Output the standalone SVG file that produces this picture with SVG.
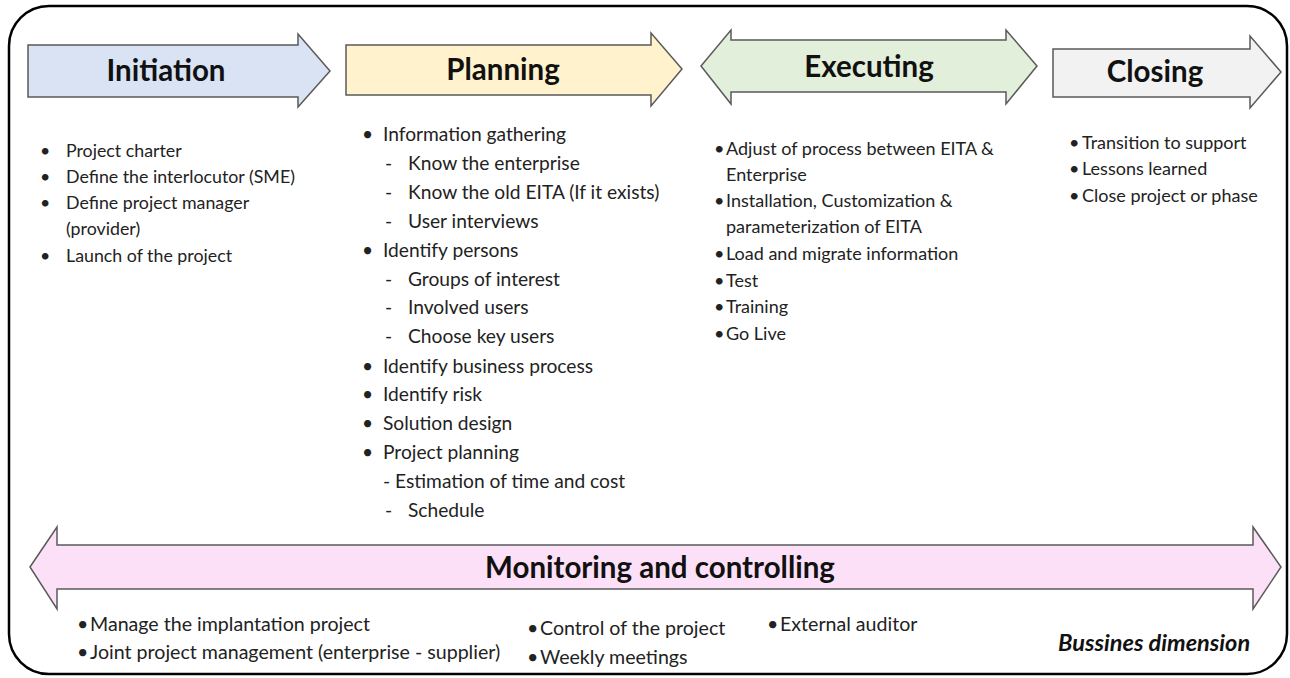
<svg xmlns="http://www.w3.org/2000/svg" width="1290" height="678" viewBox="0 0 1290 678">
<style>
.arr{stroke:#5a5a5a;stroke-width:1.5}
.h{font-family:Lato,"Liberation Sans",sans-serif;font-weight:bold;font-size:29.5px;fill:#111;text-anchor:middle}
.t{font-family:Lato,"Liberation Sans",sans-serif;font-size:17.8px;fill:#222}
.e{font-family:Lato,"Liberation Sans",sans-serif;font-size:18px;fill:#222}
.p{font-family:Lato,"Liberation Sans",sans-serif;font-size:19.2px;fill:#222}
.m{font-family:Lato,"Liberation Sans",sans-serif;font-size:19.6px;fill:#222}
.bi{font-family:Lato,"Liberation Sans",sans-serif;font-size:23.5px;font-weight:bold;font-style:italic;fill:#111}
</style>
<rect x="9" y="6" width="1278" height="668" rx="40" ry="40" fill="#fff" stroke="#000" stroke-width="2.5"/>
<g id="initiation">
<path class="arr" fill="#dae3f3" d="M28,45 H298 V34 L330,71 L298,107 V97 H28 Z"/>
<text class="h" x="166" y="81">Initiation</text>
</g>
<g id="planning">
<path class="arr" fill="#fff2cc" d="M346,45 H651 V33 L682,69 L651,106 V95 H346 Z"/>
<text class="h" x="503" y="80">Planning</text>
</g>
<g id="executing">
<path class="arr" fill="#e2efda" d="M701,66 L731,30 V40 H1006 V30 L1037,66 L1006,104 V92 H731 V104 Z"/>
<text class="h" x="869" y="77">Executing</text>
</g>
<g id="closing">
<path class="arr" fill="#f2f2f2" d="M1053,49 H1250 V36 L1281,72 L1250,108 V97 H1053 Z"/>
<text class="h" x="1155" y="82">Closing</text>
</g>
<g id="monitoring">
<path class="arr" fill="#fce0f8" d="M30,567 L57,527 V545 H1253 V527 L1281,567 L1253,609 V589 H57 V609 Z"/>
<text class="h" x="660" y="578">Monitoring and controlling</text>
</g>
<g id="initiation-list" class="t">
<text x="40" y="157">•</text><text x="66" y="157">Project charter</text>
<text x="40" y="183">•</text><text x="66" y="183">Define the interlocutor (SME)</text>
<text x="40" y="209">•</text><text x="66" y="209">Define project manager</text>
<text x="66" y="235">(provider)</text>
<text x="40" y="262">•</text><text x="66" y="262">Launch of the project</text>
</g>
<g id="planning-list" class="p">
<text x="362" y="141">•</text><text x="383" y="141">Information gathering</text>
<text x="385" y="170">-</text><text x="408" y="170">Know the enterprise</text>
<text x="385" y="199">-</text><text x="408" y="199">Know the old EITA (If it exists)</text>
<text x="385" y="228">-</text><text x="408" y="228">User interviews</text>
<text x="362" y="257">•</text><text x="383" y="257">Identify persons</text>
<text x="385" y="286">-</text><text x="408" y="286">Groups of interest</text>
<text x="385" y="314">-</text><text x="408" y="314">Involved users</text>
<text x="385" y="343">-</text><text x="408" y="343">Choose key users</text>
<text x="362" y="373">•</text><text x="383" y="373">Identify business process</text>
<text x="362" y="401">•</text><text x="383" y="401">Identify risk</text>
<text x="362" y="430">•</text><text x="383" y="430">Solution design</text>
<text x="362" y="459">•</text><text x="383" y="459">Project planning</text>
<text x="383" y="488">- Estimation of time and cost</text>
<text x="385" y="517">-</text><text x="408" y="517">Schedule</text>
</g>
<g id="executing-list" class="e">
<text x="714" y="155">•</text><text x="726" y="155">Adjust of process between EITA &amp;</text>
<text x="726" y="181">Enterprise</text>
<text x="714" y="207">•</text><text x="726" y="207">Installation, Customization &amp;</text>
<text x="726" y="233">parameterization of EITA</text>
<text x="714" y="260">•</text><text x="726" y="260">Load and migrate information</text>
<text x="714" y="287">•</text><text x="726" y="287">Test</text>
<text x="714" y="313">•</text><text x="726" y="313">Training</text>
<text x="714" y="340">•</text><text x="726" y="340">Go Live</text>
</g>
<g id="closing-list" class="e">
<text x="1069" y="149">•</text><text x="1082" y="149">Transition to support</text>
<text x="1069" y="175">•</text><text x="1082" y="175">Lessons learned</text>
<text x="1069" y="202">•</text><text x="1082" y="202">Close project or phase</text>
</g>
<g id="monitoring-list" class="m">
<text x="77" y="631">•</text><text x="90" y="631">Manage the implantation project</text>
<text x="77" y="659">•</text><text x="90" y="659">Joint project management (enterprise - supplier)</text>
<text x="527" y="635">•</text><text x="540" y="635">Control of the project</text>
<text x="527" y="664">•</text><text x="540" y="664">Weekly meetings</text>
<text x="767" y="631">•</text><text x="780" y="631">External auditor</text>
</g>
<text class="bi" x="1058" y="651">Bussines dimension</text>
</svg>
